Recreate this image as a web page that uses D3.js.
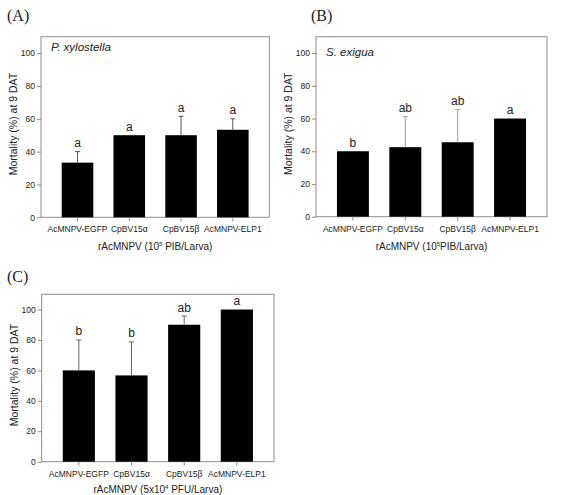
<!DOCTYPE html>
<html>
<head>
<meta charset="utf-8">
<script src="https://cdn.jsdelivr.net/npm/d3@7"></script>
<style>
  body { margin: 0; background: #fff; }
  text { font-family: "Liberation Sans", Arial, sans-serif; fill: #222; }
</style>
</head>
<body>
<svg id="fig" width="562" height="495"></svg>
<script>
var categories = ["AcMNPV-EGFP", "CpBV15\u03b1", "CpBV15\u03b2", "AcMNPV-ELP1"];
var yTicks = [0, 20, 40, 60, 80, 100];

// (A) P. xylostella
var mortalityA = [33.3, 50, 50, 53.3];
var errorA = [6.7, 0, 11.5, 6.7];
var lettersA = ["a", "a", "a", "a"];

// (B) S. exigua
var mortalityB = [40, 42.5, 45.5, 60];
var errorB = [0, 18.6, 20, 0];
var lettersB = ["b", "ab", "ab", "a"];

// (C)
var mortalityC = [60, 56.7, 90, 100];
var errorC = [20, 22, 5.7, 0];
var lettersC = ["b", "b", "ab", "a"];

var svg = d3.select("#fig");

function drawPanel(p) {
  var x = d3.scaleBand()
      .domain(categories)
      .range([p.left, p.right])
      .paddingInner(0.39)
      .paddingOuter(0.4);
  var y = d3.scaleLinear().domain([0, 110]).range([p.bottom, p.top]);

  var g = svg.append("g");

  // panel letter
  g.append("text")
      .attr("x", p.labelX).attr("y", p.labelY)
      .style("font-family", "'Liberation Serif', 'DejaVu Serif', serif")
      .style("font-size", "16px")
      .text(p.label);

  // frame
  g.append("rect")
      .attr("x", p.left).attr("y", p.top)
      .attr("width", p.right - p.left).attr("height", p.bottom - p.top)
      .attr("fill", "none").attr("stroke", "#8c8c8c").attr("stroke-width", 1);

  // bars
  g.selectAll(".bar")
      .data(p.values)
    .enter().append("rect")
      .attr("class", "bar")
      .attr("x", function(d, i) { return x(categories[i]); })
      .attr("y", function(d) { return y(d); })
      .attr("width", x.bandwidth())
      .attr("height", function(d) { return y(0) - y(d); })
      .attr("fill", "#000");

  // upper error bars
  var eb = g.selectAll(".err")
      .data(p.values.map(function(v, i) { return { v: v, e: p.errors[i], c: categories[i] }; })
        .filter(function(d) { return d.e > 0; }))
    .enter().append("g").attr("class", "err")
      .attr("stroke", p.errColor).attr("stroke-width", 1);
  eb.append("line")
      .attr("x1", function(d) { return x(d.c) + x.bandwidth() / 2; })
      .attr("x2", function(d) { return x(d.c) + x.bandwidth() / 2; })
      .attr("y1", function(d) { return y(d.v); })
      .attr("y2", function(d) { return y(d.v + d.e); });
  eb.append("line")
      .attr("x1", function(d) { return x(d.c) + x.bandwidth() / 2 - 2.5; })
      .attr("x2", function(d) { return x(d.c) + x.bandwidth() / 2 + 2.5; })
      .attr("y1", function(d) { return y(d.v + d.e); })
      .attr("y2", function(d) { return y(d.v + d.e); });

  // significance letters
  g.selectAll(".sig")
      .data(p.letters)
    .enter().append("text")
      .attr("class", "sig")
      .attr("text-anchor", "middle")
      .attr("x", function(d, i) { return x(categories[i]) + x.bandwidth() / 2; })
      .attr("y", function(d, i) { return y(p.values[i] + p.errors[i]) - 4.5; })
      .style("font-size", "12px")
      .text(String);

  // y axis
  var ya = g.append("g")
      .attr("transform", "translate(" + p.left + ",0)")
      .call(d3.axisLeft(y).tickValues(yTicks).tickSize(4).tickPadding(2));
  ya.select(".domain").remove();
  ya.selectAll("line").attr("stroke", "#8c8c8c");
  ya.selectAll("text").style("font-size", "8.5px").style("font-family", null).attr("fill", "#222");

  // x axis
  var xa = g.append("g")
      .attr("transform", "translate(0," + p.bottom + ")")
      .call(d3.axisBottom(x).tickSize(4).tickPadding(5));
  xa.select(".domain").remove();
  xa.selectAll("line").attr("stroke", "#8c8c8c");
  xa.selectAll("text").style("font-size", "8.5px").style("font-family", null).attr("fill", "#222");

  // y title
  g.append("text")
      .attr("transform", "translate(" + (p.left - 24) + "," + ((p.top + p.bottom) / 2 - 3) + ") rotate(-90)")
      .attr("text-anchor", "middle")
      .style("font-size", "10.5px")
      .text("Mortality (%) at 9 DAT");

  // x title with superscript
  var xt = g.append("text")
      .attr("x", (p.left + p.right) / 2)
      .attr("y", p.bottom + p.titleOffset)
      .attr("text-anchor", "middle")
      .style("font-size", "10px");
  xt.append("tspan").text(p.xTitle[0]);
  xt.append("tspan").attr("dy", -4).style("font-size", "6px").text(p.xTitle[1]);
  xt.append("tspan").attr("dy", 4).text(p.xTitle[2]);

  // species name
  if (p.species) {
    g.append("text")
        .attr("x", p.left + 10).attr("y", p.speciesY)
        .style("font-size", "11.5px").style("font-style", "italic")
        .text(p.species);
  }
}

drawPanel({
  label: "(A)", labelX: 7, labelY: 21,
  left: 41, right: 269.3, top: 36.7, bottom: 217.3,
  values: mortalityA, errors: errorA, letters: lettersA, errColor: "#555",
  species: "P. xylostella", speciesY: 51,
  xTitle: ["rAcMNPV (10", "5", " PIB/Larva)"], titleOffset: 33
});

drawPanel({
  label: "(B)", labelX: 311, labelY: 21,
  left: 316, right: 547, top: 36.7, bottom: 216.7,
  values: mortalityB, errors: errorB, letters: lettersB, errColor: "#999",
  species: "S. exigua", speciesY: 55.5,
  xTitle: ["rAcMNPV (10", "5", "PIB/Larva)"], titleOffset: 33.5
});

drawPanel({
  label: "(C)", labelX: 7, labelY: 282,
  left: 41.7, right: 274, top: 294.3, bottom: 461.7,
  values: mortalityC, errors: errorC, letters: lettersC, errColor: "#666",
  species: null,
  xTitle: ["rAcMNPV (5x10", "4", " PFU/Larva)"], titleOffset: 31
});
</script>
</body>
</html>
